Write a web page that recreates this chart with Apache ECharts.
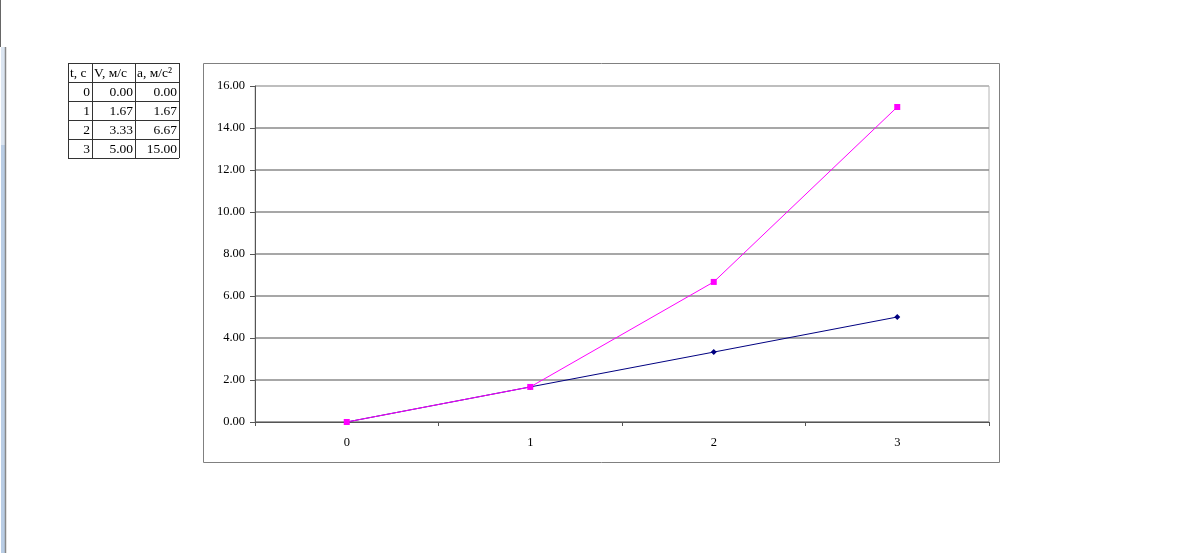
<!DOCTYPE html>
<html><head><meta charset="utf-8">
<script src="https://cdn.jsdelivr.net/npm/echarts@6/dist/echarts.min.js"></script>
<style>html,body{margin:0;padding:0;background:#fff}#c{width:1200px;height:556px}</style>
</head><body><div id="c"></div>
<script>
const times = ['0', '1', '2', '3'];
const velocity = [0.00, 1.67, 3.33, 5.00];
const accel = [0.00, 1.67, 6.67, 15.00];
const headers = ['t, с', 'V, м/с', 'a, м/с²'];
const yMin = 0, yMax = 16, yStep = 2;

const FONT = '"Liberation Serif", "Times New Roman", serif';
const chart = echarts.init(document.getElementById('c'), null, {renderer: 'canvas'});

// table graphics
const colX = [68, 92, 135, 179];
const rowY = [63, 82, 101, 120, 139, 158];
const g = [];
// left decoration
g.push({type: 'rect', shape: {x: 1, y: 47, width: 4, height: 506}, style: {fill: '#b9cde5'}, silent: true});
g.push({type: 'rect', shape: {x: 1, y: 47, width: 4, height: 98}, style: {fill: '#dbe5f1'}, silent: true});
g.push({type: 'line', shape: {x1: 0.5, y1: 0, x2: 0.5, y2: 47}, style: {stroke: '#666', lineWidth: 1}, silent: true});
g.push({type: 'line', shape: {x1: 5.5, y1: 47, x2: 5.5, y2: 553}, style: {stroke: '#888', lineWidth: 1.5}, silent: true});
// chart outer border
g.push({type: 'rect', shape: {x: 203.5, y: 63.5, width: 796, height: 399}, style: {fill: 'none', stroke: '#808080', lineWidth: 1}, silent: true, z: -1});
// table lines
for (let i = 0; i < rowY.length; i++) {
  g.push({type: 'line', shape: {x1: colX[0], y1: rowY[i] + 0.5, x2: colX[3], y2: rowY[i] + 0.5}, style: {stroke: '#333', lineWidth: 1}, silent: true});
}
for (let j = 0; j < colX.length; j++) {
  g.push({type: 'line', shape: {x1: colX[j] + 0.5, y1: rowY[0], x2: colX[j] + 0.5, y2: rowY[rowY.length - 1]}, style: {stroke: '#333', lineWidth: 1}, silent: true});
}
// headers
for (let j = 0; j < headers.length; j++) {
  g.push({type: 'text', x: colX[j] + 2, y: (rowY[0] + rowY[1]) / 2 + 1, style: {text: headers[j], font: '13.5px ' + FONT, fill: '#000', textVerticalAlign: 'middle', textAlign: 'left'}, silent: true});
}
const cols = [times, velocity.map(v => v.toFixed(2)), accel.map(v => v.toFixed(2))];
for (let i = 0; i < times.length; i++) {
  for (let j = 0; j < 3; j++) {
    g.push({type: 'text', x: colX[j + 1] - 2, y: (rowY[i + 1] + rowY[i + 2]) / 2 + 1, style: {text: String(cols[j][i]), font: '13.5px ' + FONT, fill: '#000', textVerticalAlign: 'middle', textAlign: 'right'}, silent: true});
  }
}

const nLines = (yMax - yMin) / yStep + 1;
const splitColors = [];
for (let i = 0; i < nLines; i++) splitColors.push(i === nLines - 1 ? '#b4b4b4' : '#8a8a8a');

chart.setOption({
  animation: false,
  backgroundColor: '#fff',
  grid: {left: 255, top: 86, width: 734, height: 336, show: true, borderColor: '#b4b4b4', borderWidth: 1, backgroundColor: 'transparent'},
  xAxis: {
    type: 'category', data: times, boundaryGap: true,
    axisLine: {lineStyle: {color: '#555', width: 1}},
    axisTick: {show: true, length: 4, inside: false, lineStyle: {color: '#555'}},
    axisLabel: {color: '#000', fontFamily: FONT, fontSize: 12.5, margin: 14},
    splitLine: {show: false}
  },
  yAxis: {
    type: 'value', min: yMin, max: yMax, interval: yStep,
    axisLine: {show: true, lineStyle: {color: '#555', width: 1}},
    axisTick: {show: true, length: 5, lineStyle: {color: '#555'}},
    axisLabel: {color: '#000', fontFamily: FONT, fontSize: 12.5, margin: 10, formatter: v => v.toFixed(2)},
    splitLine: {show: true, lineStyle: {color: splitColors, width: 1.5}}
  },
  series: [
    {name: 'V, м/с', type: 'line', data: velocity, symbol: 'diamond', symbolSize: 6,
     lineStyle: {color: '#000080', width: 1}, itemStyle: {color: '#000080'}},
    {name: 'a, м/с²', type: 'line', data: accel, symbol: 'rect', symbolSize: 6,
     lineStyle: {color: '#ff00ff', width: 1}, itemStyle: {color: '#ff00ff'}}
  ],
  graphic: g
});
</script>
</body></html>
